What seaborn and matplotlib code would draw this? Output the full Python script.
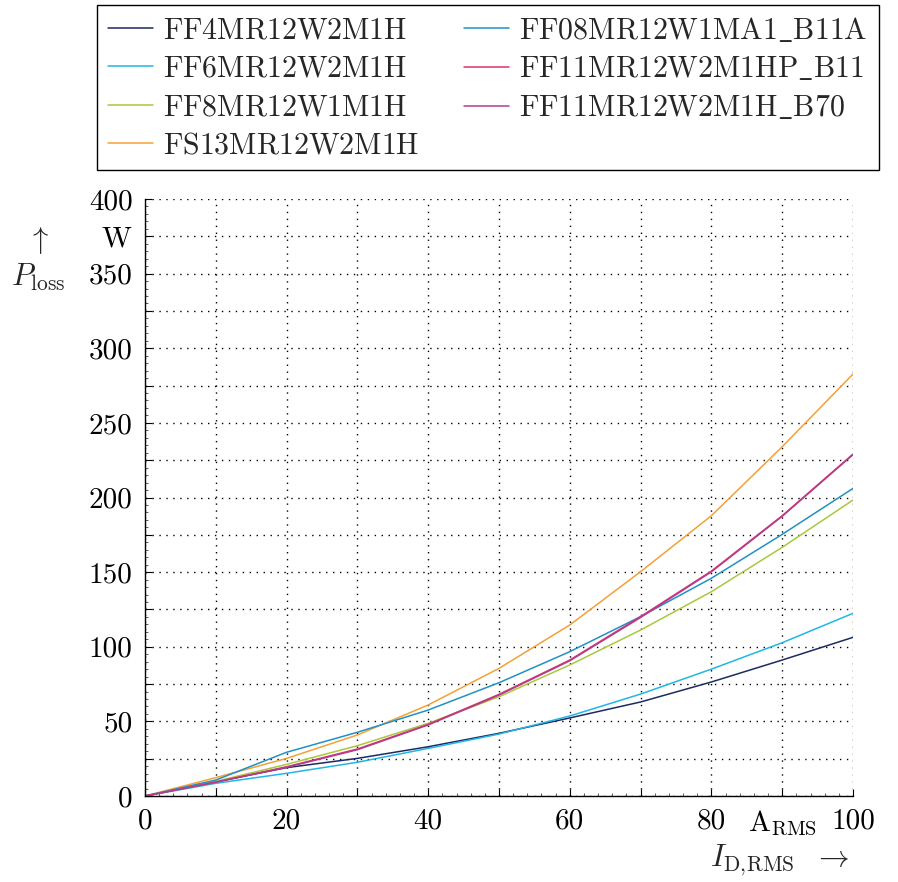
"""
Verlustleistung P_loss über dem Effektivstrom I_D,RMS für verschiedene Module.
"""
import pandas as pd
import seaborn as sns
import matplotlib.pyplot as plt
from matplotlib.ticker import MultipleLocator

# Daten
current = [0, 10, 20, 30, 40, 50, 60, 70, 80, 90, 100]

ff4 = [0, 9.5, 19.0, 25.2, 33.0, 42.0, 52.3, 63.0, 76.4, 91.1, 106.3]
ff6 = [0, 8.5, 15.2, 22.6, 31.9, 41.5, 53.6, 68.3, 85.0, 102.7, 122.4]
ff8 = [0, 9.8, 21.2, 33.7, 48.7, 66.5, 87.8, 111.2, 136.9, 166.6, 198.3]
fs13 = [0, 12.3, 25.2, 40.9, 61.0, 85.5, 114.6, 150.3, 187.8, 234.0, 282.7]
ff08 = [0, 10.7, 29.3, 42.7, 57.6, 75.9, 96.7, 120.2, 145.9, 175.3, 206.1]
ff11_hp = [0, 9.4, 19.6, 31.5, 48.0, 68.1, 91.1, 120.2, 150.7, 187.8, 229.1]
ff11_b70 = [0, 9.2, 19.2, 31.0, 47.6, 67.6, 90.6, 119.6, 150.2, 187.4, 228.7]

modules = [
    r"$\mathrm{FF4MR12W2M1H}$",
    r"$\mathrm{FF6MR12W2M1H}$",
    r"$\mathrm{FF8MR12W1M1H}$",
    r"$\mathrm{FS13MR12W2M1H}$",
    r"$\mathrm{FF08MR12W1MA1\_B11A}$",
    r"$\mathrm{FF11MR12W2M1HP\_B11}$",
    r"$\mathrm{FF11MR12W2M1H\_B70}$",
]
losses = [ff4, ff6, ff8, fs13, ff08, ff11_hp, ff11_b70]
colors = ["#1b2b62", "#22b6e6", "#a9c83c", "#f4a036",
          "#2191c4", "#dc3370", "#b03e8c"]

x_ticks = [0, 10, 20, 30, 40, 50, 60, 70, 80, 90, 100]
x_labels = ["0", "", "20", "", "40", "", "60", "", "80",
            r"$\mathrm{A}_{\mathrm{RMS}}$", "100"]
y_ticks = [0, 25, 50, 75, 100, 125, 150, 175, 200, 225, 250, 275, 300,
           325, 350, 375, 400]
y_labels = ["0", "", "50", "", "100", "", "150", "", "200", "", "250", "",
            "300", "", "350", r"$\mathrm{W}$", "400"]


def main():
    sns.set_style("ticks")
    plt.rcParams["font.family"] = "serif"
    plt.rcParams["font.serif"] = ["cmr10", "DejaVu Serif"]
    plt.rcParams["mathtext.fontset"] = "cm"
    plt.rcParams["axes.formatter.use_mathtext"] = True

    df = pd.DataFrame({
        "I": current * len(modules),
        "P": [v for serie in losses for v in serie],
        "Modul": [m for m in modules for _ in current],
    })

    fig = plt.figure(figsize=(8.98, 8.82), dpi=100)
    ax = fig.add_axes([145 / 898, 86 / 882, 708 / 898, 597 / 882])

    sns.lineplot(data=df, x="I", y="P", hue="Modul", hue_order=modules,
                 palette=dict(zip(modules, colors)), linewidth=1.1,
                 sort=False, ax=ax)

    ax.set_xlim(0, 100)
    ax.set_ylim(0, 400)
    ax.set_xticks(x_ticks)
    ax.set_xticklabels(x_labels)
    ax.set_yticks(y_ticks)
    ax.set_yticklabels(y_labels)
    ax.xaxis.set_minor_locator(MultipleLocator(2))
    ax.yaxis.set_minor_locator(MultipleLocator(5))
    ax.tick_params(which="major", direction="in", length=5, width=0.8,
                   labelsize=21, colors="black", pad=9)
    ax.tick_params(which="minor", direction="in", length=2.5, width=0.6,
                   colors="#444444")
    ax.grid(True, which="major", linestyle=(0, (1, 4)), color="black",
            linewidth=1.0)
    ax.set_xlabel("")
    ax.set_ylabel("")
    for side in ["top", "right"]:
        ax.spines[side].set_visible(False)
    for side in ["left", "bottom"]:
        ax.spines[side].set_color("black")
        ax.spines[side].set_linewidth(1.0)

    # Achsenbeschriftungen im pgfplots-Stil
    fig.text(38 / 898, 1 - 240 / 882, r"$\uparrow$", ha="center",
             va="center", fontsize=22)
    fig.text(38 / 898, 1 - 277 / 882, r"$P_{\mathrm{loss}}$", ha="center",
             va="center", fontsize=22)
    fig.text(780 / 898, 1 - 860 / 882,
             r"$I_{\mathrm{D,\!RMS}}\ \ \rightarrow$",
             ha="center", va="center", fontsize=22)

    handles, labels = ax.get_legend_handles_labels()
    ax.get_legend().remove()
    leg = fig.legend(handles, labels, loc="upper left",
                     bbox_to_anchor=(97 / 898, 1 - 5 / 882), ncol=2,
                     fontsize=21.5, frameon=True, fancybox=False,
                     edgecolor="black", framealpha=1, handlelength=1.5,
                     handletextpad=0.35, columnspacing=1.5, labelspacing=0.36,
                     borderpad=0.36, borderaxespad=0)
    leg.get_frame().set_linewidth(1.0)

    plt.savefig("out.png", dpi=100)
    plt.close()


if __name__ == "__main__":
    main()
